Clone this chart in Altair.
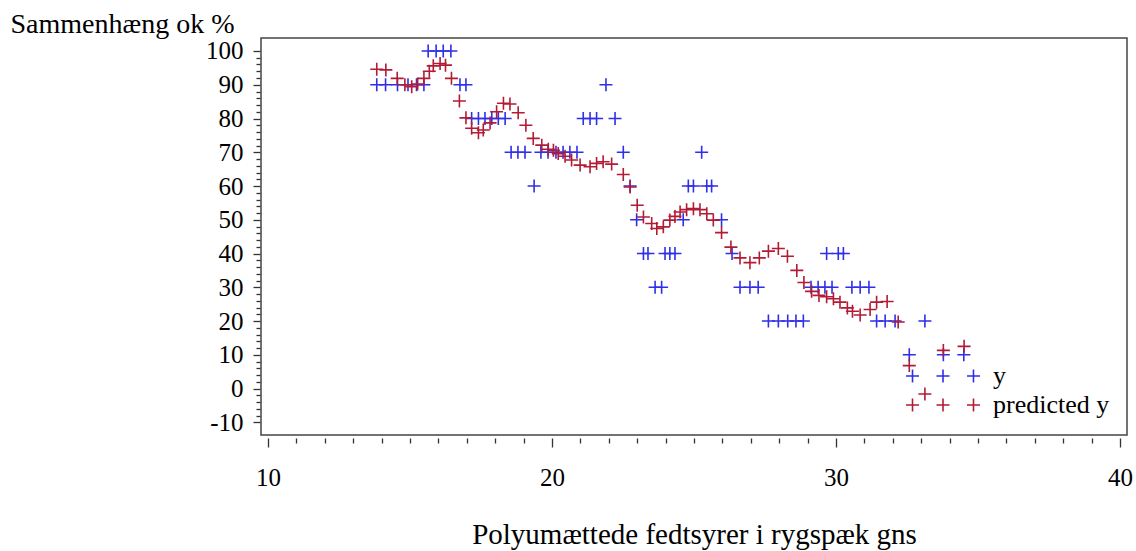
import altair as alt
import pandas as pd

# ---- data ----
obs_x = [15.64, 15.92, 16.17, 16.44,
         13.83, 14.14, 14.56, 14.93, 15.23, 15.49, 16.76, 16.97, 21.90,
         17.17, 17.41, 17.64, 17.88, 18.11, 18.35, 21.10, 21.34, 21.57, 22.22,
         18.56, 18.80, 19.05, 19.61, 19.86, 20.14, 20.39, 20.63, 20.88, 22.51, 25.27,
         19.37, 22.75, 24.80, 24.98, 25.45, 25.62,
         22.98, 24.62, 25.97,
         23.22, 23.38, 23.98, 24.15, 24.33, 26.34, 29.67, 30.08, 30.26,
         23.63, 23.86, 26.62, 26.97, 27.26, 29.12, 29.37, 29.61, 29.86, 30.56, 30.85, 31.16,
         27.62, 27.97, 28.30, 28.59, 28.85, 31.43, 31.73, 32.08, 33.13,
         32.58, 33.78, 34.50]
obs_y = [100] * 4 + [90] * 9 + [80] * 10 + [70] * 11 + [60] * 6 + [50] * 3 + [40] * 9 + [30] * 12 + [20] * 9 + [10] * 3

pred_x = [13.83, 14.15, 14.55, 14.82, 15.06, 15.27, 15.49, 15.68, 15.82, 16.06, 16.25, 16.46,
          16.74, 16.97, 17.17, 17.41, 17.58, 17.82, 18.05, 18.29, 18.52, 18.81,
          19.08, 19.34, 19.64, 19.87, 20.05, 20.22, 20.46, 20.69, 20.99, 21.34, 21.57, 21.80, 22.10,
          22.51, 22.75, 23.00, 23.22, 23.51, 23.69, 23.92, 24.15, 24.33, 24.51, 24.74, 24.98, 25.21,
          25.45, 25.68, 25.97, 26.30, 26.62, 26.97, 27.30, 27.62, 27.97, 28.29, 28.62, 28.87,
          29.14, 29.40, 29.67, 29.91, 30.14, 30.40, 30.58, 30.85, 31.20, 31.43, 31.80, 32.19,
          32.58, 33.13, 33.78, 34.51]
pred_y = [94.6, 94.4, 91.9, 90.0, 89.4, 90.2, 91.9, 94.0, 95.6, 96.3, 95.8, 91.9,
          85.2, 80.2, 77.1, 75.8, 76.6, 78.7, 82.0, 84.5, 84.3, 81.7,
          78.0, 74.1, 72.1, 70.9, 70.6, 69.6, 68.8, 67.7, 66.2, 65.7, 66.7, 67.2, 66.5,
          63.4, 59.7, 54.3, 50.8, 48.9, 47.4, 47.9, 49.9, 51.0, 52.3, 53.0, 53.3, 53.0,
          51.8, 49.9, 46.2, 41.9, 38.7, 37.3, 38.7, 40.7, 41.5, 39.2, 35.0, 31.4,
          28.8, 27.6, 27.2, 26.6, 25.6, 23.9, 22.9, 21.8, 23.4, 25.6, 25.8, 19.7,
          6.8, -1.6, 11.3, 12.5]

series_names = ["y", "predicted y"]
series_colors = ["#2f2fe8", "#b31b34"]
x_ticks = list(range(10, 41))
y_ticks = list(range(-10, 101, 2))

df = pd.concat([
    pd.DataFrame({"x": obs_x, "v": obs_y, "series": "y"}),
    pd.DataFrame({"x": pred_x, "v": pred_y, "series": "predicted y"}),
], ignore_index=True)

FONT = "Liberation Serif"
PLUS = "M-1,0H1M0,-1V1"
LEG = "M-5.69,0H-3.69M-4.69,-1V1M-1,0H1M0,-1V1M3.69,0H5.69M4.69,-1V1"

chart = alt.Chart(df).mark_point(
    shape=PLUS, filled=False, size=169, strokeWidth=1.6, opacity=1
).encode(
    x=alt.X("x:Q",
            scale=alt.Scale(domain=[9.754, 40.246], nice=False, zero=False),
            axis=alt.Axis(values=x_ticks,
                          tickSize={"expr": "datum.value % 10 === 0 ? 9 : 5"},
                          labelExpr="datum.value % 10 === 0 ? '' + datum.value : ''",
                          labelOverlap=False, offset=3, domain=False, grid=False,
                          tickColor="#333333", tickWidth=1.3,
                          labelFont=FONT, labelFontSize=25, labelColor="black",
                          labelPadding=18,
                          title="Polyumættede fedtsyrer i rygspæk gns",
                          titleFont=FONT, titleFontSize=29, titleFontWeight="normal",
                          titleColor="black", titleY=105, titleBaseline="alphabetic")),
    y=alt.Y("v:Q",
            scale=alt.Scale(domain=[-13.76, 103.85], nice=False, zero=False),
            axis=alt.Axis(values=y_ticks,
                          tickSize={"expr": "datum.value % 10 === 0 ? 7 : 4"},
                          labelExpr="datum.value % 10 === 0 ? '' + datum.value : ''",
                          labelOverlap=False, offset=1, domain=False, grid=False,
                          tickColor="#333333", tickWidth=1.3,
                          labelFont=FONT, labelFontSize=25, labelColor="black",
                          labelPadding=10, labelBaseline="middle",
                          title="Sammenhæng ok %",
                          titleFont=FONT, titleFontSize=28, titleFontWeight="normal",
                          titleColor="black", titleAngle=0, titleAlign="left",
                          titleBaseline="alphabetic", titleX=-250, titleY=-6)),
    color=alt.Color("series:N",
                    scale=alt.Scale(domain=series_names, range=series_colors),
                    legend=alt.Legend(title=None, orient="none", legendX=669, legendY=325,
                                      symbolType=LEG, symbolSize=169, symbolStrokeWidth=1.6,
                                      labelFont=FONT, labelFontSize=26, labelColor="black",
                                      labelOffset=37, rowPadding=3, padding=0)),
    order=alt.Order("series:N", sort="descending"),
).properties(
    width=866, height=397,
    autosize=alt.AutoSizeParams(type="none"),
    padding={"left": 261, "top": 38, "right": 9, "bottom": 116},
    background="white",
).configure_view(stroke="#444444", strokeWidth=1.5)

chart.save("out.html", embed_options={"renderer": "svg", "actions": False})
